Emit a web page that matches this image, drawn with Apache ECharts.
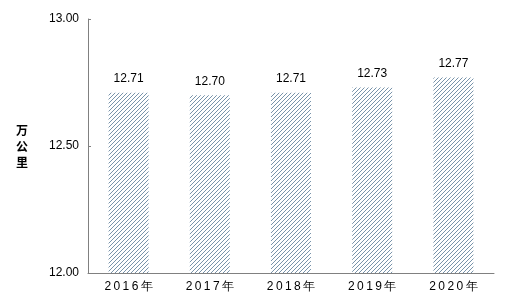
<!DOCTYPE html>
<html><head><meta charset="utf-8">
<script src="https://cdn.jsdelivr.net/npm/echarts@6/dist/echarts.min.js"></script>
<style>html,body{margin:0;padding:0;background:#fff}#c{width:512px;height:307px}</style>
</head><body><div id="c"></div>
<script>
const categories = ['2016年','2017年','2018年','2019年','2020年'];
const values = [12.71, 12.70, 12.71, 12.73, 12.77];
const yTicks = [12.00, 12.50, 13.00];
const yName = '万公里';

function hatch(){
  const c = document.createElement('canvas');
  c.width = 4; c.height = 4;
  const g = c.getContext('2d');
  g.fillStyle = '#ffffff'; g.fillRect(0,0,4,4);
  g.fillStyle = '#7893aa';
  for (let i=0;i<4;i++){ g.fillRect(i, 3-i, 1, 1); }
  return c;
}

const chart = echarts.init(document.getElementById('c'));
chart.setOption({
  animation:false,
  grid:{left:88, right:18, top:19, bottom:34},
  xAxis:{type:'category', data:categories,
    axisLine:{lineStyle:{color:'#808080', width:1}},
    axisTick:{show:false},
    axisLabel:{color:'#000', fontSize:12, fontFamily:'Liberation Sans, Arial', margin:8,
      formatter:v=>v.split('').join('\u2009')}},
  yAxis:{type:'value', min:yTicks[0], max:yTicks[yTicks.length-1], interval:0.5,
    name:yName.split('').join('\n'), nameLocation:'middle', nameGap:60, nameRotate:0,
    nameTextStyle:{color:'#000', fontSize:12, fontWeight:'bold', fontFamily:'Noto Sans CJK SC', lineHeight:16, padding:[0,0,10,0]},
    axisLine:{show:true, lineStyle:{color:'#808080'}},
    axisTick:{show:true, inside:true, length:3, lineStyle:{color:'#808080'}},
    splitLine:{show:false},
    axisLabel:{color:'#000', fontSize:12, fontFamily:'Liberation Sans, Arial', margin:9,
      formatter:v=>v.toFixed(2)}},
  series:[{type:'bar', data:values, barWidth:40,
    itemStyle:{color:{image:hatch(), repeat:'repeat'}},
    label:{show:true, position:'top', distance:8, color:'#000', fontSize:12,
      fontFamily:'Liberation Sans, Arial', formatter:p=>p.value.toFixed(2)}}]
});
</script></body></html>
